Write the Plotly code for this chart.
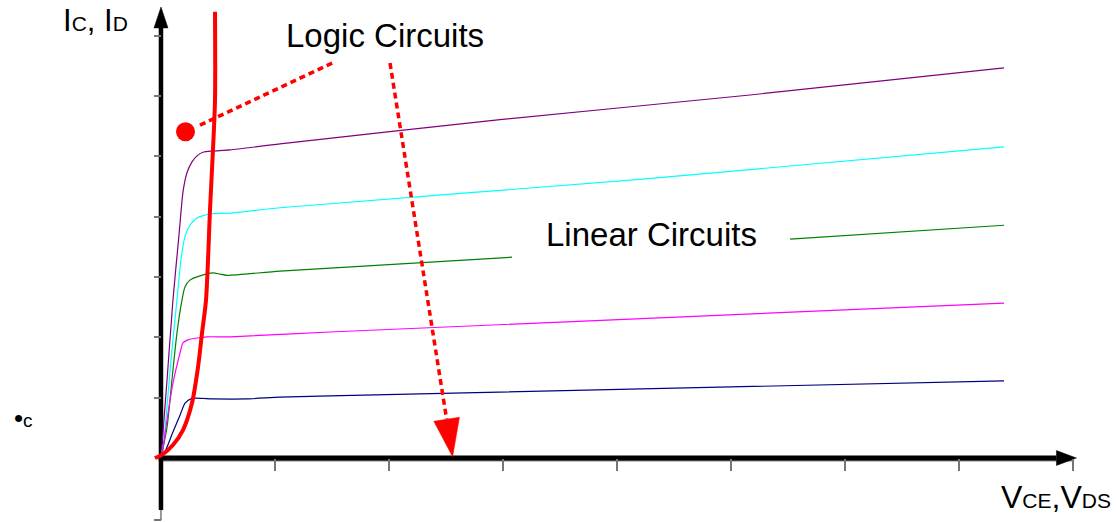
import math
import plotly.graph_objects as go

# ---------------- data (V = VCE/VDS, I = IC/ID, arbitrary units) ----------------
purple_v = [0, 0.053, 0.105, 0.158, 0.193, 0.228, 0.272, 0.316, 0.368, 0.447, 0.605, 1.044, 2.974, 5.167, 7.395]
purple_i = [0, 1.29, 2.62, 3.70, 4.41, 4.73, 4.91, 5.01, 5.07, 5.09, 5.11, 5.21, 5.61, 6.02, 6.47]

cyan_v = [0, 0.026, 0.088, 0.140, 0.175, 0.211, 0.254, 0.316, 0.430, 0.605, 1.044, 4.200, 7.395]
cyan_i = [0, 0.30, 1.63, 2.62, 3.28, 3.68, 3.86, 3.98, 4.05, 4.06, 4.15, 4.62, 5.16]

green_v = [0, 0.053, 0.096, 0.140, 0.184, 0.211, 0.254, 0.342, 0.456, 0.518, 0.579, 1.044, 3.079]
green_i = [0, 0.51, 1.29, 2.07, 2.62, 2.84, 2.95, 3.02, 3.07, 3.05, 3.03, 3.10, 3.33]
green2_v = [5.518, 7.395]
green2_i = [3.63, 3.86]

magenta_v = [0, 0.018, 0.053, 0.105, 0.167, 0.193, 0.237, 0.316, 0.404, 0.605, 1.482, 7.395]
magenta_i = [0, 0.166, 0.63, 1.24, 1.74, 1.91, 1.96, 1.99, 2.01, 2.01, 2.09, 2.57]

navy_v = [0, 0.035, 0.105, 0.167, 0.211, 0.272, 0.456, 0.754, 1.044, 1.482, 7.395]
navy_i = [0, 0.10, 0.43, 0.71, 0.91, 0.99, 0.98, 0.98, 1.01, 1.03, 1.28]

# load line (logic circuits)
red_v = [-0.053, 0.018, 0.105, 0.193, 0.272, 0.325, 0.360, 0.395, 0.430, 0.456, 0.474, 0.474]
red_i = [0, 0.066, 0.216, 0.464, 0.912, 1.509, 2.073, 2.620, 4.113, 5.108, 5.937, 7.40]

x_ticks = [1, 2, 3, 4, 5, 6, 7, 8]
y_ticks = [-1.03, 1, 2, 3, 4, 5, 6, 7]

# ---------------- layout geometry ----------------
W, H = 1116, 522
XR = [-1.412, 8.377]
YR = [-1.061, 7.595]
SX = W / (XR[1] - XR[0])
SY = H / (YR[1] - YR[0])

# annotation geometry (data units)
dot_pt = (0.215, 5.41)
dash1 = ((0.342, 5.52), (1.526, 6.57))
dash2_start = (2.009, 6.55)
arrow2_tip = (2.558, 0.02)
yaxis_bottom, yaxis_tip = -0.86, 7.48
yaxis_ext = -1.03
xaxis_left, xaxis_tip = -0.02, 8.03


def head(tip, frm, length, width):
    dx = (tip[0] - frm[0]) * SX
    dy = (tip[1] - frm[1]) * SY
    n = math.hypot(dx, dy)
    ux, uy = dx / n, dy / n
    bx, by = tip[0] * SX - ux * length, tip[1] * SY - uy * length
    px, py = -uy, ux
    pts = [(tip[0] * SX, tip[1] * SY),
           (bx + px * width / 2, by + py * width / 2),
           (bx - px * width / 2, by - py * width / 2),
           (tip[0] * SX, tip[1] * SY)]
    base = (bx / SX, by / SY)
    return [p[0] / SX for p in pts], [p[1] / SY for p in pts], base


fig = go.Figure()

# axes (drawn first, curves on top)
yhx, yhy, ybase = head((0, yaxis_tip), (0, 0), 21, 14)
xhx, xhy, xbase = head((xaxis_tip, 0), (0, 0), 20, 15)
fig.add_trace(go.Scatter(x=[0, 0], y=[yaxis_ext, yaxis_bottom], mode="lines",
                         line=dict(color="#777777", width=1.5), hoverinfo="skip"))
fig.add_trace(go.Scatter(x=[xaxis_left, x_ticks[-1]], y=[-0.045, -0.045], mode="lines",
                         line=dict(color="#888888", width=1.5), hoverinfo="skip"))
fig.add_trace(go.Scatter(x=[0, 0], y=[yaxis_bottom, ybase[1]], mode="lines",
                         line=dict(color="black", width=4.5), hoverinfo="skip"))
fig.add_trace(go.Scatter(x=[xaxis_left, xbase[0]], y=[0, 0], mode="lines",
                         line=dict(color="black", width=5), hoverinfo="skip"))
for hx, hy in [(yhx, yhy), (xhx, xhy)]:
    fig.add_trace(go.Scatter(x=hx, y=hy, mode="lines", fill="toself", fillcolor="black",
                             line=dict(color="black", width=0.5), hoverinfo="skip"))

# characteristic curves
curves = [
    (purple_v, purple_i, "#800080"),
    (cyan_v, cyan_i, "#00FFFF"),
    (green_v, green_i, "#008000"),
    (green2_v, green2_i, "#008000"),
    (magenta_v, magenta_i, "#FF00FF"),
    (navy_v, navy_i, "#000080"),
]
for v, i, c in curves:
    fig.add_trace(go.Scatter(x=v, y=i, mode="lines", line=dict(color=c, width=1.2, shape="spline", smoothing=0.6),
                             hoverinfo="skip"))

# red load line
fig.add_trace(go.Scatter(x=red_v, y=red_i, mode="lines",
                         line=dict(color="#FF0000", width=4, shape="spline", smoothing=0.8), hoverinfo="skip"))

# red dotted pointer + dot
fig.add_trace(go.Scatter(x=[dash1[0][0], dash1[1][0]], y=[dash1[0][1], dash1[1][1]], mode="lines",
                         line=dict(color="#FF0000", width=3.5, dash="6px,4px"), hoverinfo="skip"))
fig.add_trace(go.Scatter(x=[dot_pt[0]], y=[dot_pt[1]], mode="markers",
                         marker=dict(color="#FF0000", size=19), hoverinfo="skip"))

# red dotted arrow
ahx, ahy, abase = head(arrow2_tip, dash2_start, 38, 26)
fig.add_trace(go.Scatter(x=[dash2_start[0], abase[0]], y=[dash2_start[1], abase[1]], mode="lines",
                         line=dict(color="#FF0000", width=3.5, dash="6px,4px"), hoverinfo="skip"))
fig.add_trace(go.Scatter(x=ahx, y=ahy, mode="lines", fill="toself", fillcolor="#FF0000",
                         line=dict(color="#FF0000", width=0.5), hoverinfo="skip"))

FONT = "Liberation Sans, Arial, sans-serif"
ann = [
    dict(x=1.075, y=7.0, text="Logic Circuits", size=33),
    dict(x=3.364, y=3.70, text="Linear Circuits", size=33),
    dict(x=-0.877, y=7.25, text="I<span style='font-size:21px'>C</span>, I<span style='font-size:21px'>D</span>", size=31),
    dict(x=7.35, y=-0.64, text="V<span style='font-size:21px'>CE</span>,V<span style='font-size:21px'>DS</span>", size=32),
    dict(x=-1.31, y=0.66, text="<span style='font-size:26px'>•</span>c", size=19),
]
for a in ann:
    fig.add_annotation(x=a["x"], y=a["y"], text=a["text"], showarrow=False, xanchor="left", yanchor="middle",
                       font=dict(family=FONT, size=a["size"], color="black"))

fig.update_layout(
    width=W, height=H, margin=dict(l=0, r=0, t=0, b=0),
    paper_bgcolor="white", plot_bgcolor="white", showlegend=False,
    xaxis=dict(range=XR, showgrid=False, zeroline=False, showline=False, showticklabels=False,
               ticks="outside", tickmode="array", tickvals=x_ticks, ticklen=12, tickwidth=2,
               tickcolor="#777777", anchor="free", position=(0 - YR[0]) / (YR[1] - YR[0])),
    yaxis=dict(range=YR, showgrid=False, zeroline=False, showline=False, showticklabels=False,
               ticks="outside", tickmode="array", tickvals=y_ticks, ticklen=7, tickwidth=1.5,
               tickcolor="#777777", anchor="free", position=(0 - XR[0]) / (XR[1] - XR[0])),
)

fig.write_html("out.html", config={"displayModeBar": False},
               post_script="document.body.style.margin='0px';")
